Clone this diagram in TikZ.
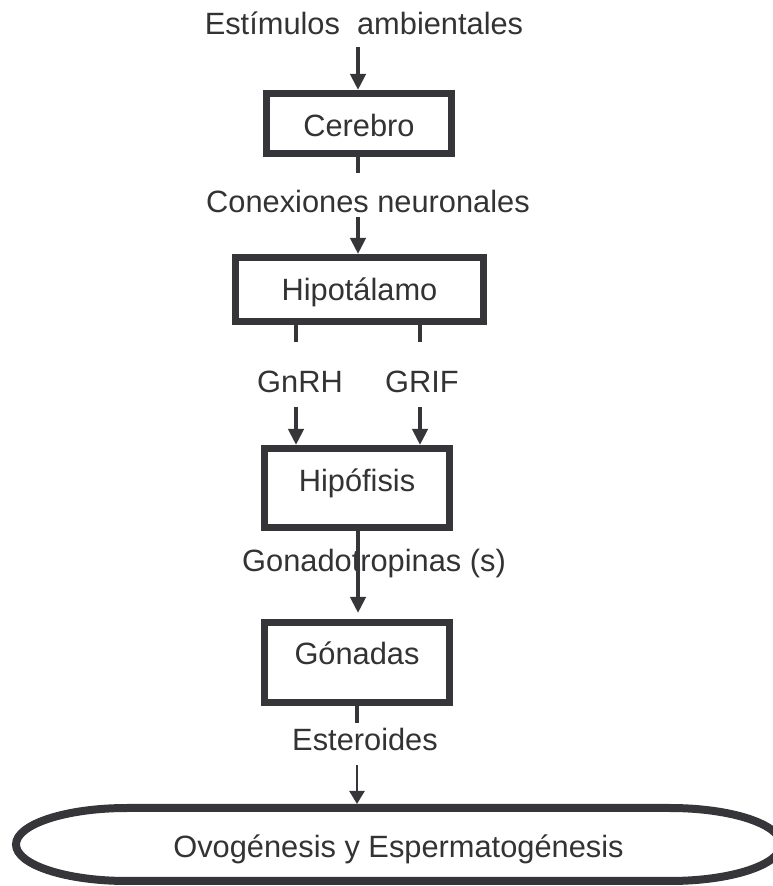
\documentclass[tikz,border=0pt]{standalone}
\usepackage{fontspec}
\setmainfont{Liberation Sans}
\usetikzlibrary{arrows.meta}
\definecolor{ink}{RGB}{54,54,58}
\definecolor{txt}{RGB}{51,51,51}
\begin{document}
\begin{tikzpicture}[x=1pt,y=1pt,
  every node/.style={font=\fontsize{30.8}{36}\selectfont, text=txt, inner sep=0pt},
  lbl/.style={anchor=base},
  box/.style={draw=ink, line width=7pt, fill=white},
  arr/.style={draw=ink, line width=4pt, -{Triangle[width=15pt,length=16pt]}},
  arrthin/.style={draw=ink, line width=2.3pt, -{Triangle[width=15pt,length=13pt]}},
  ln/.style={draw=ink, line width=4pt},
  oval/.style={draw=ink, line width=8pt}]
\useasboundingbox (0,0) rectangle (773,886);
\clip (0,0) rectangle (773,886);

% labels
\node[lbl] (est) at (364,851) {Estímulos\ \ ambientales};
\node[lbl] (con) at (368,673) {Conexiones neuronales};
\node[lbl] (gnrh) at (300,493) {GnRH};
\node[lbl] (grif) at (422,493) {GRIF};
\node[lbl] (gona) at (374,314) {Gonadotropinas (s)};
\node[lbl] (ste) at (365,135) {Esteroides};

% boxes
\node[box, minimum width=185pt, minimum height=60pt, text height=27pt, text depth=0pt] (cer) at (359,762.5) {Cerebro};
\node[box, minimum width=248pt, minimum height=64pt, text height=22pt, text depth=0pt] (hyt) at (359.5,596.5) {Hipotálamo};
\node[box, minimum width=185pt, minimum height=79pt, text height=22pt, text depth=14pt] (hpf) at (357,398) {Hipófisis};
\node[box, minimum width=185pt, minimum height=80pt, text height=22pt, text depth=17pt] (gon) at (357,223.5) {Gónadas};

% final oval
\node[minimum width=765pt, minimum height=73pt, outer sep=0pt, text height=27pt, text depth=0pt] (out) at (398.5,41.5) {Ovogénesis y Espermatogénesis};
\draw[oval] ([xshift=111pt]out.north west) -- ([xshift=-111pt]out.north east)
  arc[start angle=90, end angle=-90, x radius=111pt, y radius=36.5pt]
  -- ([xshift=111pt]out.south west)
  arc[start angle=270, end angle=90, x radius=111pt, y radius=36.5pt] -- cycle;

% connectors
\coordinate (cx) at (358,0);
\draw[arr] ([yshift=-12pt]est.base -| cx) -- (cer.north -| cx);
\draw[ln] (cer.south -| cx) -- ([yshift=-16pt]cer.south -| cx);
\draw[arr] ([yshift=-4pt]con.base -| cx) -- (hyt.north -| cx);

\coordinate (lx) at ([xshift=-63.5pt]hyt.south);
\coordinate (rx) at ([xshift=60.5pt]hyt.south);
\draw[ln] (lx) -- ([yshift=-17pt]lx);
\draw[ln] (rx) -- ([yshift=-17pt]rx);
\draw[arr] ([yshift=-14pt]gnrh.base -| lx) -- (hpf.north -| lx);
\draw[arr] ([yshift=-14pt]grif.base -| rx) -- (hpf.north -| rx);

\draw[arr] (hpf.south -| cx) -- ([yshift=6pt]gon.north -| cx);
\draw[ln] (gon.south) -- ([yshift=-17pt]gon.south);
\draw[arrthin] ([yshift=-14pt]ste.base -| gon.south) -- ([yshift=4pt]out.north -| gon.south);
\end{tikzpicture}
\end{document}
